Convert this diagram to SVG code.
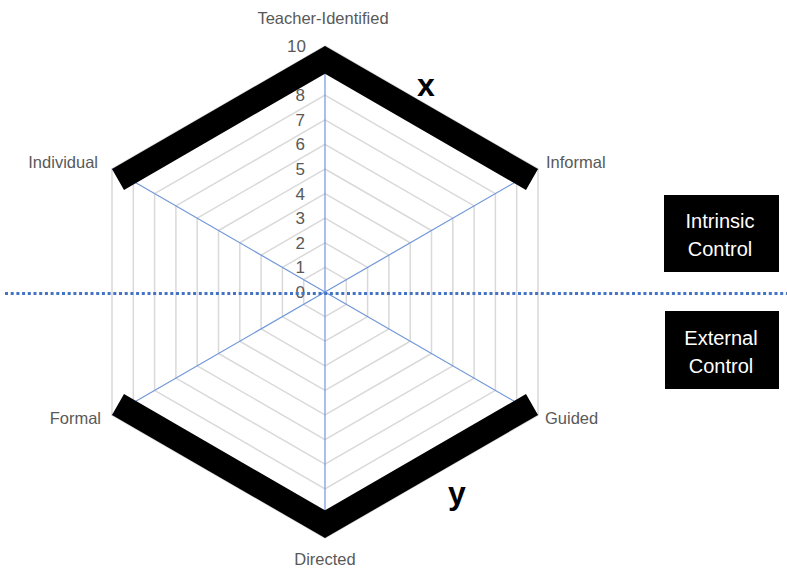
<svg xmlns="http://www.w3.org/2000/svg" width="787" height="568" viewBox="0 0 787 568">
<style>
.ring{fill:none;stroke:#d9d9d9;stroke-width:1.5}
.axis{stroke:#6f96d8;stroke-width:1.2}
.band{fill:#000}
.lbl{font-family:"Liberation Sans",Arial,sans-serif;font-size:16.5px;fill:#595959}
.num{font-family:"Liberation Sans",Arial,sans-serif;font-size:17px;fill:#595959;text-anchor:end}
.big{font-family:"Liberation Sans",Arial,sans-serif;font-size:32px;font-weight:bold;fill:#000}
.box{fill:#000}
.boxt{font-family:"Liberation Sans",Arial,sans-serif;font-size:20px;fill:#fff;text-anchor:middle}
</style>
<rect width="787" height="568" fill="#fff"/>
<g id="grid">
<polygon class="ring" points="325,267.4 346.3,279.7 346.3,304.3 325,316.6 303.7,304.3 303.7,279.7"/>
<polygon class="ring" points="325,242.8 367.6,267.4 367.6,316.6 325,341.2 282.4,316.6 282.4,267.4"/>
<polygon class="ring" points="325,218.2 388.9,255.1 388.9,328.9 325,365.8 261.1,328.9 261.1,255.1"/>
<polygon class="ring" points="325,193.6 410.2,242.8 410.2,341.2 325,390.4 239.8,341.2 239.8,242.8"/>
<polygon class="ring" points="325,169 431.5,230.5 431.5,353.5 325,415 218.5,353.5 218.5,230.5"/>
<polygon class="ring" points="325,144.4 452.8,218.2 452.8,365.8 325,439.6 197.2,365.8 197.2,218.2"/>
<polygon class="ring" points="325,119.8 474.1,205.9 474.1,378.1 325,464.2 175.9,378.1 175.9,205.9"/>
<polygon class="ring" points="325,95.2 495.4,193.6 495.4,390.4 325,488.8 154.6,390.4 154.6,193.6"/>
<polygon class="ring" points="325,70.6 516.7,181.3 516.7,402.7 325,513.4 133.3,402.7 133.3,181.3"/>
<polygon class="ring" points="325,46 538,169 538,415 325,538 112,415 112,169"/>
</g>
<g id="axes">
<line class="axis" x1="325" y1="292" x2="325" y2="46"/>
<line class="axis" x1="325" y1="292" x2="538" y2="169"/>
<line class="axis" x1="325" y1="292" x2="538" y2="415"/>
<line class="axis" x1="325" y1="292" x2="325" y2="538"/>
<line class="axis" x1="325" y1="292" x2="112" y2="415"/>
<line class="axis" x1="325" y1="292" x2="112" y2="169"/>
</g>
<g id="scale">
<text class="num" x="305" y="298">0</text>
<text class="num" x="305" y="273.4">1</text>
<text class="num" x="305" y="248.8">2</text>
<text class="num" x="305" y="224.2">3</text>
<text class="num" x="305" y="199.6">4</text>
<text class="num" x="305" y="175">5</text>
<text class="num" x="305" y="150.4">6</text>
<text class="num" x="305" y="125.8">7</text>
<text class="num" x="305" y="101.2">8</text>
<text class="num" x="306" y="52">10</text>
</g>
<g id="band-x">
<polygon class="band" points="112,169 325,46 538,169 526,190 325,73.7 124,190"/>
</g>
<g id="band-y">
<polygon class="band" points="112,415 325,538 538,415 526,394 325,510.3 124,394"/>
</g>
<g id="divider">
<line x1="5" y1="293.5" x2="787" y2="293.5" stroke="#4472c4" stroke-width="3" stroke-dasharray="3 2.7"/>
</g>
<g id="labels">
<text class="lbl" x="323" y="24" text-anchor="middle">Teacher-Identified</text>
<text class="lbl" x="546" y="168">Informal</text>
<text class="lbl" x="98" y="168" text-anchor="end">Individual</text>
<text class="lbl" x="101" y="424" text-anchor="end">Formal</text>
<text class="lbl" x="545" y="424">Guided</text>
<text class="lbl" x="325" y="565" text-anchor="middle">Directed</text>
</g>
<g id="label-x"><text class="big" x="426" y="96" text-anchor="middle">x</text></g>
<g id="label-y"><text class="big" x="457" y="504" text-anchor="middle">y</text></g>
<g id="intrinsic">
<rect class="box" x="664" y="195" width="115" height="77"/>
<text class="boxt" x="720" y="228">Intrinsic</text>
<text class="boxt" x="720" y="256">Control</text>
</g>
<g id="external">
<rect class="box" x="665" y="311" width="114" height="78"/>
<text class="boxt" x="721" y="345">External</text>
<text class="boxt" x="721" y="373">Control</text>
</g>
</svg>
